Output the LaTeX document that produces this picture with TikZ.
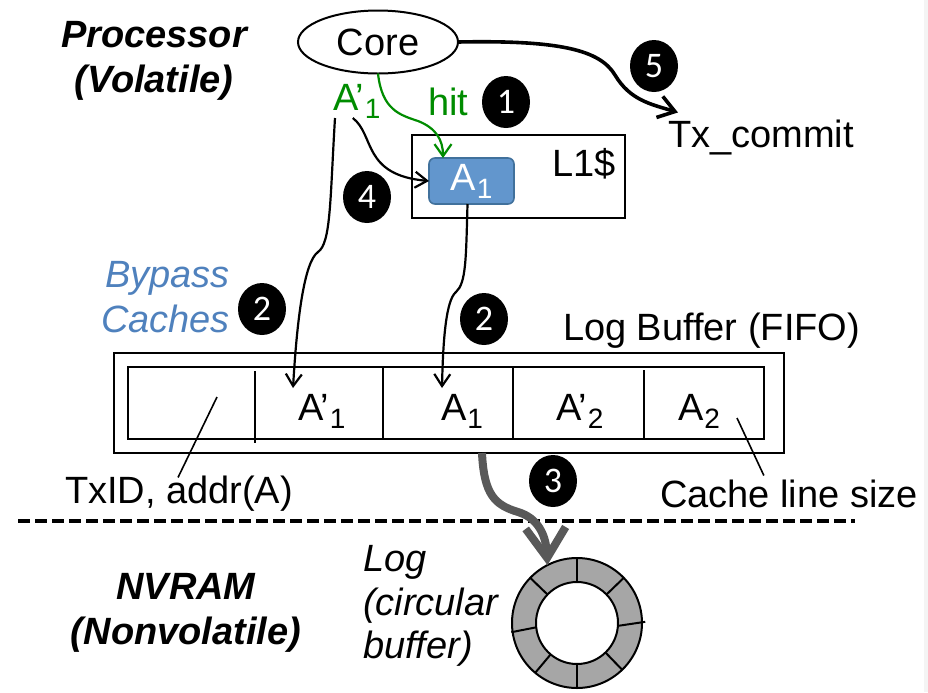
\documentclass[tikz,border=0pt]{standalone}
\usepackage{fontspec}
\setmainfont{Liberation Sans}
\newfontfamily\badgefont{Carlito}
\usepackage{tikz}
\usetikzlibrary{arrows.meta, calc, positioning, shapes.geometric}
\definecolor{hitgreen}{RGB}{0,140,0}
\definecolor{bypassblue}{RGB}{79,129,189}
\definecolor{cachefill}{RGB}{98,150,205}
\definecolor{cacheline}{RGB}{65,113,156}
\definecolor{flowgray}{RGB}{89,89,89}
\definecolor{ringgray}{RGB}{166,166,166}
\definecolor{stripgray}{RGB}{244,244,244}
\newcommand\diagfont{\fontsize{19}{22.5}\selectfont}
\newcommand\lowsub[1]{\kern0.5pt\raisebox{-4pt}{\fontsize{14}{14}\selectfont #1}}

\begin{document}
\begin{tikzpicture}[x=0.5pt, y=-0.5pt, inner sep=0pt, outer sep=0pt, font=\diagfont,
  badge/.style={ellipse, fill=black, text=white, minimum width=24pt, minimum height=26pt,
    font=\badgefont\fontsize{18}{18}\selectfont},
  wire/.style={line width=1.1pt, -{Straight Barb[length=6pt,width=8pt]}},
  sidelabel/.style={align=center, font=\diagfont\bfseries\itshape}]
\useasboundingbox (0,0) rectangle (928,692);
\fill[stripgray] (924,0) rectangle (928,692);

% Side labels
\node[sidelabel] (proc) at (154,61) {Processor\\(Volatile)};
\node[sidelabel] (nvram) at (186,613) {NVRAM\\(Nonvolatile)};
\node[align=right, anchor=east, text=bypassblue, font=\diagfont\itshape] (bypass) at (230,297) {Bypass\\Caches};
\node[align=left, anchor=west, font=\fontsize{19}{21.75}\selectfont\itshape] (logname) at (363,606) {Log\\(circular\\buffer)};

% Core and commit
\node[ellipse, draw, line width=1pt, minimum width=80pt, minimum height=31.5pt] (core) at (378,42) {Core};
\node[anchor=base west] (commit) at (668,147) {Tx\_commit};
\node[anchor=base west, text=hitgreen] (aprime) at (333,110) {A’\lowsub{1}};
\node[anchor=base west, text=hitgreen] (hit) at (428,115) {hit};

% L1 cache
\draw[line width=1pt] (412,135) rectangle (625,218);
\node[anchor=base west] (l1) at (552,176) {L1\$};
\node[draw=cacheline, fill=cachefill, rounded corners=3pt, line width=0.8pt,
  minimum width=42.5pt, minimum height=23pt, text=white] (a1) at (471.5,181) {A\lowsub{1}};

% Log buffer
\node[anchor=base west] (bufname) at (563,340) {Log Buffer (FIFO)};
\node[draw, line width=1pt, minimum width=335pt, minimum height=50pt] (logbuf) at (449,403) {};
\draw[line width=1pt] (128,367) rectangle (764,439);
\foreach \x/\t/\b in {255/371/443, 383/367/439, 513/367/440, 644/370/440}
  \draw[line width=1pt] (\x,\t) -- (\x,\b);
\node[anchor=base west] (c2) at (298,420) {A’\lowsub{1}};
\node[anchor=base west] (c3) at (441,420) {A\lowsub{1}};
\node[anchor=base west] (c4) at (556,420) {A’\lowsub{2}};
\node[anchor=base west] (c5) at (678,420) {A\lowsub{2}};
\coordinate (tipA) at (293,388);
\coordinate (tipB) at (442,388);

% Cell notes
\node[anchor=base west] (txid) at (65,503) {TxID, addr(A)};
\node[anchor=base west] (linesize) at (660,507) {Cache line size};
\coordinate (txidpt) at (217,397);
\coordinate (linept) at (737,418);
\draw[line width=0.8pt] (txidpt) -- ($(txid.north)+(-1,2)$);
\draw[line width=0.8pt] (linept) -- ($(linesize.north)+(-25,-4)$);

% Volatile / nonvolatile boundary
\draw[line width=1.6pt, dash pattern=on 6pt off 2.5pt] (18,521) -- (855,521);

% Circular log
\node[circle, draw, line width=1pt, fill=ringgray, minimum size=65pt] (ring) at (577,623) {};
\node[circle, draw, line width=1pt, fill=white, minimum size=41pt] (hole) at (ring.center) {};
\foreach \a in {90,44,-46,270,230,136}
  \draw[line width=1pt] (hole.\a) -- (ring.\a);
\draw[line width=1pt] (hole.-4) -- ($(ring.center)!1.05!(ring.1)$);
\draw[line width=1pt] (hole.186) -- ($(ring.center)!1.02!(ring.188)$);

% Steps
\node[badge] (n1) at (506,102) {1};
\node[badge] (n2a) at (262,309) {2};
\node[badge] (n2b) at (484,319) {2};
\node[badge] (n3) at (553,481) {3};
\node[badge] (n4) at (367,197) {4};
\node[badge] (n5) at (654,66) {5};

% Flows
\draw[line width=1.8pt, -{Straight Barb[length=8pt,width=11pt]}] (core.east)
  .. controls (560,40) and (600,50) .. (615,75)
  .. controls (630,100) and (650,104) .. ($(commit.north west)+(10,-7)$);
\draw[hitgreen, line width=1.1pt, -{Straight Barb[length=6pt,width=8.5pt]}] (core.south)
  .. controls (382,110) and (400,115) .. (418,121)
  .. controls (436,128) and (443,140) .. ($(a1.north west)+(14,0)$);
\draw[wire] ([xshift=-2pt]aprime.south) .. controls (375,135) and (362,175) .. (a1.west);
\draw[wire] ([xshift=1pt]aprime.south west)
  .. controls (330,200) and (331,243) .. (318,252)
  .. controls (304,262) and (297,320) .. (tipA);
\draw[wire] ([xshift=-2pt]a1.south)
  .. controls (466,260) and (466,283) .. (456,292)
  .. controls (446,300) and (443,340) .. (tipB);
\draw[flowgray, line width=4pt, -{Straight Barb[length=15pt,width=20pt]}] ([xshift=16.5pt]logbuf.south)
  .. controls (484,495) and (495,505) .. (518,512)
  .. controls (538,518) and (546,535) .. (ring.117);
\end{tikzpicture}
\end{document}
